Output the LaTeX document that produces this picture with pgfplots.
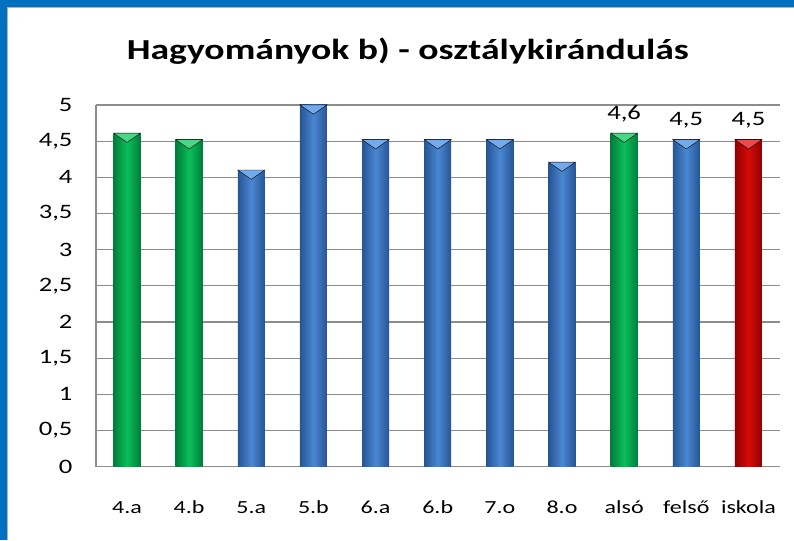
\documentclass[border=0pt]{standalone}
\usepackage{pgfplots}
\pgfplotsset{compat=1.18}
\usepackage{fontspec}
\setmainfont{Carlito}[FakeStretch=1.3]
\definecolor{frameblue}{RGB}{0,112,192}
\definecolor{gridgray}{RGB}{140,140,140}
\definecolor{gdark}{RGB}{0,125,58}
\definecolor{glight}{RGB}{10,190,90}
\definecolor{gtop}{RGB}{70,215,135}
\definecolor{bdark}{RGB}{38,85,148}
\definecolor{blight}{RGB}{75,135,210}
\definecolor{btop}{RGB}{115,170,235}
\definecolor{rdark}{RGB}{145,0,0}
\definecolor{rlight}{RGB}{215,10,10}
\definecolor{rtop}{RGB}{235,75,75}

\pgfplotsset{
  gbar/.style={bar shift=0pt, draw=none, left color=gdark, right color=gdark, middle color=glight},
  bbar/.style={bar shift=0pt, draw=none, left color=bdark, right color=bdark, middle color=blight},
  rbar/.style={bar shift=0pt, draw=none, left color=rdark, right color=rdark, middle color=rlight},
  cap/.style={only marks, mark=triangle*, mark size=15.6pt,
    mark options={draw=none, fill=#1, yshift=-3.1pt, rotate=180, yscale=0.4}},
}

\begin{document}
\begin{tikzpicture}
\fill[white] (0,0) rectangle (794pt,540pt);
\fill[frameblue] (0,533pt) rectangle (794pt,540pt);
\fill[frameblue] (0,0) rectangle (7pt,540pt);
\draw[gray!60, line width=1pt] (7.5pt,0) -- (7.5pt,532.5pt) -- (794pt,532.5pt);
\node[font=\fontsize{29}{34}\selectfont\bfseries] at (408pt,489pt) {Hagyományok b) - osztálykirándulás};
\begin{axis}[
    at={(96pt,73pt)}, anchor=south west,
    scale only axis,
    width=684pt, height=362pt,
    ybar, bar width=27pt,
    xmin=-0.5, xmax=10.5,
    ymin=0, ymax=5,
    xtick={0,1,2,3,4,5,6,7,8,9,10},
    xticklabels={4.a,4.b,5.a,5.b,6.a,6.b,7.o,8.o,alsó,felső,iskola},
    ytick={0,0.5,1,1.5,2,2.5,3,3.5,4,4.5,5},
    /pgf/number format/use comma,
    /pgf/number format/assume math mode=true,
    major tick length=0pt,
    ymajorgrids,
    grid style={gridgray, line width=1.2pt},
    axis x line*=bottom, axis y line*=left,
    axis line style={gridgray, line width=1.5pt},
    x axis line style={-}, y axis line style={-},
    xticklabel style={font=\fontsize{18.5}{22}\selectfont, anchor=base, yshift=-47pt},
    yticklabel style={font=\fontsize{20.5}{24}\selectfont, xshift=-20pt},
    nodes near coords style={font=\fontsize{20.5}{24}\selectfont, /pgf/number format/fixed, /pgf/number format/fixed zerofill, /pgf/number format/precision=1, /pgf/number format/use comma, yshift=8pt},
]
\addplot[gbar] coordinates {(0,4.61)};
\addplot[gbar] coordinates {(1,4.52)};
\addplot[bbar] coordinates {(2,4.10)};
\addplot[bbar] coordinates {(3,5.0)};
\addplot[bbar] coordinates {(4,4.52)};
\addplot[bbar] coordinates {(5,4.52)};
\addplot[bbar] coordinates {(6,4.52)};
\addplot[bbar] coordinates {(7,4.21)};
\addplot[gbar, nodes near coords] coordinates {(8,4.61)};
\addplot[bbar, nodes near coords] coordinates {(9,4.52)};
\addplot[rbar, nodes near coords] coordinates {(10,4.52)};
% lighter bevel on the top of each bar
\addplot[cap=gtop] coordinates {(0,4.61) (1,4.52) (8,4.61)};
\addplot[cap=btop] coordinates {(2,4.10) (3,5.0) (4,4.52) (5,4.52) (6,4.52) (7,4.21) (9,4.52)};
\addplot[cap=rtop] coordinates {(10,4.52)};
\end{axis}
\end{tikzpicture}
\end{document}
